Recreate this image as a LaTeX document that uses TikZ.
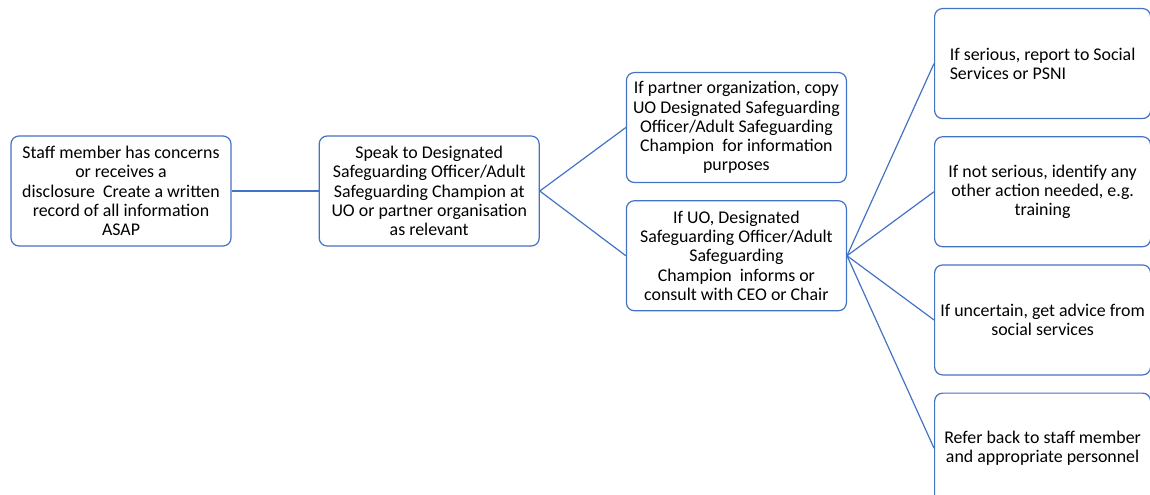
\documentclass[tikz,border=0pt]{standalone}
\usepackage{fontspec}
\setmainfont{Carlito}
\usepackage{xcolor}
\usepackage{tikz}
\usetikzlibrary{positioning}
\definecolor{linkblue}{HTML}{4472C4}
\tikzset{	node distance=65.25pt, 
	safebox/.style={ 
		draw=linkblue,
		line width=0.9pt,
		rounded corners=6pt,
		fill=white,
		align=center,
		inner sep=2pt,
		minimum width=165pt,
		minimum height=82.5pt,
		font=\fontsize{13.4pt}{14.4pt}\selectfont},
	sidebox/.style={ 
		safebox,
		minimum width=162pt},
	every edge/.style={  
		draw,
		linkblue,
		line width=0.9pt}
}
\begin{document}
\begin{tikzpicture}
				\useasboundingbox (0,0) rectangle (862.5pt,-370.5pt);
				\node[safebox] (s1) at (90.75pt,-143.25pt) {Staff member has concerns\\or receives a\\disclosure\ \ Create a written\\record of all information\\ASAP};
				\node[safebox, right=of s1] (s2) {Speak to Designated\\Safeguarding Officer/Adult\\Safeguarding Champion at\\UO or partner organisation\\as relevant};
				\node[safebox, right=64.5pt of s2, yshift=47.6pt] (s3) {If partner organization, copy\\UO Designated Safeguarding\\Officer/Adult Safeguarding\\Champion\ \ for information\\purposes};
				\node[safebox, below=12.75pt of s3] (s4) {If UO, Designated\\Safeguarding Officer/Adult\\Safeguarding\\Champion\ \ informs or\\consult with CEO or Chair};
				\node[sidebox, right=of s4, yshift=48pt] (s6) {If not serious, identify any\\other action needed, e.g.\\training};
				\node[sidebox, align=left, above=12.75pt of s6] (s5) {If serious, report to Social\\Services or PSNI};
				\node[sidebox, below=12.75pt of s6] (s7) {If uncertain, get advice from\\social services};
				\node[sidebox, below=12.75pt of s7] (s8) {Refer back to staff member\\and appropriate personnel};
				\draw (s1.east) edge (s2.west);
				\draw (s2.east) edge (s3.west);
				\draw (s2.east) edge (s4.west);
				\draw (s4.east) edge (s5.west);
				\draw (s4.east) edge (s6.west);
				\draw (s4.east) edge (s7.west);
				\draw (s4.east) edge (s8.west);
			\end{tikzpicture}
\end{document}
